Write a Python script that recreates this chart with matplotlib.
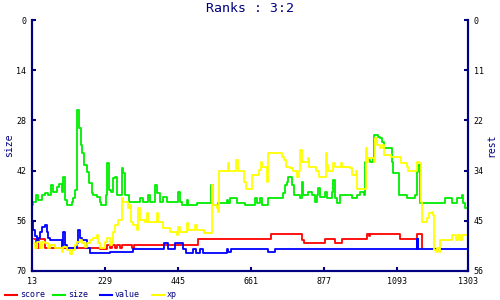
import matplotlib
matplotlib.use('Agg')
import matplotlib.pyplot as plt
from matplotlib.lines import Line2D

navy = '#000080'
plt.rcParams['font.family'] = 'DejaVu Sans Mono'

# size (left axis)
size_x = [13, 17, 25, 32, 42, 51, 61, 68, 76, 86, 94, 101, 106, 111, 116, 130, 135, 141, 145, 152,
          158, 162, 168, 175, 182, 190, 194, 204, 214, 217, 232, 236, 242, 247, 254, 259, 264, 278,
          283, 288, 301, 333, 342, 357, 362, 377, 382, 392, 401, 411, 446, 451, 456, 471, 476, 500,
          540, 543, 549, 564, 589, 594, 599, 619, 643, 673, 678, 688, 693, 712, 757, 762, 767, 771,
          783, 789, 806, 811, 816, 830, 840, 850, 855, 860, 865, 880, 885, 900, 904, 909, 914, 924,
          959, 974, 984, 994, 998, 1003, 1013, 1023, 1026, 1038, 1043, 1048, 1053, 1077, 1080, 1100,
          1122, 1146, 1151, 1156, 1161, 1230, 1235, 1255, 1270, 1284, 1289, 1294, 1303]
size_y = [51.6, 50.7, 48.8, 50.2, 48.8, 48.3, 48.8, 46.0, 47.9, 46.5, 45.8, 47.9, 43.7, 50.2, 51.6, 50.7,
          49.7, 47.4, 25.1, 30.2, 34.9, 37.2, 40.4, 42.3, 45.5, 48.3, 48.8, 49.3, 50.7, 51.6, 48.8, 40.0,
          47.4, 47.9, 44.1, 43.7, 48.8, 41.4, 42.8, 48.8, 50.7, 49.7, 50.7, 48.8, 50.7, 46.0, 48.3, 50.7,
          49.3, 50.7, 47.9, 50.7, 51.6, 50.2, 51.6, 50.9, 50.9, 46.0, 51.6, 50.9, 50.2, 50.9, 49.7, 50.9,
          51.6, 49.7, 50.9, 49.7, 51.6, 49.7, 48.3, 46.0, 45.1, 43.9, 46.0, 48.8, 49.7, 45.1, 48.8, 47.9,
          48.8, 50.7, 48.8, 46.9, 49.3, 47.9, 49.7, 47.9, 44.6, 49.7, 50.9, 48.8, 49.7, 48.8, 47.9, 48.8,
          39.5, 39.0, 39.5, 38.6, 32.1, 32.5, 33.0, 33.9, 35.8, 39.5, 42.8, 48.8, 49.7, 48.8, 42.3, 40.4,
          50.9, 50.9, 49.7, 50.9, 49.7, 48.8, 51.1, 52.5, 52.8]

# xp (right axis)
xp_x = [13, 17, 22, 27, 37, 42, 51, 61, 66, 81, 101, 106, 116, 125, 130, 140, 145, 155, 160, 170,
        175, 185, 194, 204, 209, 214, 229, 234, 244, 249, 254, 259, 268, 278, 283, 298, 303, 306,
        313, 323, 327, 333, 347, 352, 357, 382, 387, 401, 421, 441, 446, 451, 471, 476, 495, 500,
        523, 546, 549, 559, 564, 567, 592, 596, 617, 622, 640, 645, 665, 685, 690, 694, 709, 712,
        754, 759, 764, 776, 786, 796, 803, 806, 811, 829, 833, 853, 862, 882, 885, 890, 903, 909,
        926, 931, 954, 959, 972, 975, 1000, 1003, 1008, 1025, 1028, 1033, 1043, 1048, 1053, 1074,
        1104, 1122, 1126, 1153, 1159, 1163, 1166, 1181, 1189, 1196, 1200, 1203, 1207, 1212, 1216,
        1220, 1255, 1267, 1272, 1279, 1284, 1303]
xp_y = [49.1, 49.8, 50.9, 49.5, 50.9, 49.5, 49.8, 50.9, 50.2, 50.9, 51.7, 50.6, 51.3, 52.1, 51.3, 50.2,
        49.5, 49.1, 49.8, 50.6, 49.8, 49.1, 48.7, 48.0, 49.8, 50.9, 49.5, 48.7, 50.2, 49.5, 47.2, 45.7,
        44.6, 39.8, 40.5, 42.0, 41.3, 45.0, 45.7, 46.9, 42.0, 44.6, 45.0, 43.1, 45.0, 43.1, 45.0, 46.5,
        47.2, 48.0, 46.1, 47.2, 45.4, 46.9, 45.7, 46.9, 47.6, 36.8, 41.3, 42.0, 42.8, 33.8, 32.0, 33.8,
        31.2, 33.8, 36.1, 37.6, 34.6, 33.5, 31.6, 32.7, 36.1, 29.7, 30.5, 31.2, 32.7, 33.1, 33.8, 35.0,
        33.8, 29.0, 31.6, 30.9, 32.7, 33.8, 35.0, 29.7, 32.4, 33.8, 32.0, 32.7, 32.0, 32.7, 33.1, 34.6,
        33.8, 37.6, 28.6, 31.6, 30.9, 31.6, 26.4, 27.9, 28.6, 27.9, 30.1, 30.5, 32.0, 32.7, 33.8, 31.6,
        32.0, 40.5, 45.0, 44.2, 43.1, 42.8, 43.5, 51.3, 51.7, 50.9, 51.7, 49.1, 48.0, 49.1, 48.0, 49.1,
        48.0, 48.0]

# score (right axis)
score_x = [13, 25, 35, 51, 214, 235, 244, 250, 259, 265, 273, 279, 309, 315, 504, 719, 812, 818, 880,
           910, 930, 1004, 1009, 1013, 1102, 1152, 1166]
score_y = [48.9, 50.9, 48.9, 50.9, 51.2, 50.2, 50.9, 50.2, 50.9, 50.2, 50.9, 50.2, 50.9, 50.2, 48.9,
           47.8, 49.1, 49.8, 48.9, 49.8, 48.9, 47.8, 48.3, 47.8, 48.9, 47.8, 50.9]

# value (right axis)
value_x = [13, 17, 22, 27, 32, 37, 42, 51, 56, 61, 66, 101, 106, 111, 116, 145, 150, 155, 160, 175,
           185, 244, 313, 404, 416, 436, 459, 469, 490, 498, 510, 520, 589, 594, 601, 712, 732, 1151,
           1153, 1154, 1156, 1303]
value_y = [45.0, 46.9, 48.3, 49.8, 48.7, 47.2, 46.1, 45.7, 47.2, 48.7, 49.1, 50.9, 47.2, 50.2, 50.9,
           49.8, 46.9, 48.7, 49.1, 50.9, 51.9, 51.7, 51.2, 49.8, 51.2, 49.8, 51.2, 51.9, 51.2, 51.9,
           51.2, 51.9, 51.0, 51.7, 51.0, 51.8, 51.0, 48.9, 51.0, 48.9, 51.0, 51.0]

x_ticks = [13, 229, 445, 661, 877, 1093, 1303]
left_ticks = [0, 14, 28, 42, 56, 70]
right_ticks = [0, 11.2, 22.4, 33.6, 44.8, 56]
right_labels = ['0', '11', '22', '34', '45', '56']

fig = plt.figure(figsize=(5, 3), dpi=100)
ax = fig.add_axes([0.064, 0.0967, 0.872, 0.8366])
ax2 = ax.twinx()

lw = 1.3
ax.plot(size_x, size_y, color='#00ee00', lw=lw, drawstyle='steps-post')
ax2.plot(score_x, score_y, color='#ff0000', lw=lw, drawstyle='steps-post')
ax2.plot(value_x, value_y, color='#0000ff', lw=lw, drawstyle='steps-post')
ax2.plot(xp_x, xp_y, color='#ffff00', lw=lw, drawstyle='steps-post')

ax.set_xlim(13, 1303)
ax.set_ylim(70, 0)
ax2.set_ylim(56, 0)
ax.set_xticks(x_ticks)
ax.set_yticks(left_ticks)
ax2.set_yticks(right_ticks)
ax2.set_yticklabels(right_labels)

for a in (ax, ax2):
    a.spines['top'].set_visible(False)
    for s in ('left', 'right', 'bottom'):
        a.spines[s].set_color(navy)
        a.spines[s].set_linewidth(1.5)
    a.tick_params(direction='in', length=3, width=1.5, color=navy, labelsize=6, labelcolor='black', pad=4)

ax.set_ylabel('size', color=navy, fontsize=7, labelpad=2)
ax2.set_ylabel('rest', color=navy, fontsize=7, labelpad=2)
fig.suptitle('Ranks : 3:2', color=navy, fontsize=9.5, y=0.995)

# legend along the bottom
leg_names = ['score', 'size', 'value', 'xp']
leg_colors = ['#ff0000', '#00ee00', '#0000ff', '#ffff00']
leg_start = [5, 53, 100, 152]
for name, c, x0 in zip(leg_names, leg_colors, leg_start):
    fig.add_artist(Line2D([x0 / 500, (x0 + 12) / 500], [0.0167, 0.0167], color=c, lw=1.5))
    fig.text((x0 + 15) / 500, 0.0167, name, color=navy, fontsize=6, va='center', ha='left')

fig.savefig('out.png', dpi=100)
